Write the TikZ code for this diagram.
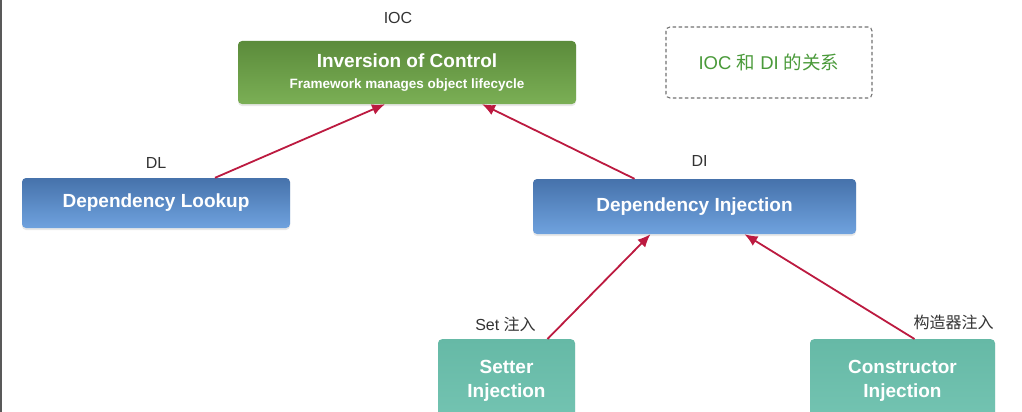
\documentclass[tikz,border=0pt]{standalone}
\usepackage{fontspec}
\setmainfont{Liberation Sans}
\newfontfamily\cjk{Noto Sans CJK SC}
\usetikzlibrary{positioning, arrows.meta, shadows}

\definecolor{ioctop}{HTML}{5B8B3B}
\definecolor{iocbot}{HTML}{7BAF55}
\definecolor{bluetop}{HTML}{4672AB}
\definecolor{bluebot}{HTML}{6FA2DE}
\definecolor{tealtop}{HTML}{66B9A6}
\definecolor{tealbot}{HTML}{74C4B2}
\definecolor{linkred}{HTML}{BC1A40}
\definecolor{labelgray}{HTML}{333333}
\definecolor{notegreen}{HTML}{4A9A3A}

\begin{document}
\begin{tikzpicture}[x=1pt, y=-1pt, >={Latex[length=13pt,width=11pt]},
	box/.style={rectangle, rounded corners=4pt, align=center, text=white,
		font=\bfseries\fontsize{19}{24}\selectfont,
		drop shadow={opacity=0.18, shadow xshift=0pt, shadow yshift=-2pt}},
	greenbox/.style={box, top color=ioctop, bottom color=iocbot},
	bluebox/.style={box, top color=bluetop, bottom color=bluebot},
	tealbox/.style={box, top color=tealtop, bottom color=tealbot},
	lbl/.style={inner sep=0pt, text=labelgray, font=\fontsize{16}{19}\selectfont},
	link/.style={->, draw=linkred, line width=1.8pt}]
	
	\clip (0,0) rectangle (1022,412);
	\fill[white] (0,0) rectangle (1022,412);
	\draw[black!65, line width=1.5pt] (0.75,0) -- (0.75,412);
	
	% Define nodes
	\node [greenbox, minimum width=338pt, minimum height=63pt] (ioc) at (407,72.5)
		{Inversion of Control\\[-3pt]{\fontsize{13.5}{16}\selectfont Framework manages object lifecycle}};
	\node [bluebox, minimum width=268pt, minimum height=50pt] (dl) at (156,203) {Dependency Lookup};
	\node [bluebox, minimum width=323pt, minimum height=55pt] (di) at (694.5,206.5) {Dependency Injection};
	\node [tealbox, anchor=north, minimum width=137pt, minimum height=84pt] (setter) at (506.5,339) {Setter\\Injection};
	\node [tealbox, anchor=north, minimum width=185pt, minimum height=84pt] (ctor) at (902.5,339) {Constructor\\Injection};
	
	% Labels above the blocks
	\node [lbl, above=17pt of ioc, xshift=-9pt] (ioclbl) {IOC};
	\node [lbl, above=9pt of dl] (dllbl) {DL};
	\node [lbl, above=12pt of di, xshift=5pt] (dilbl) {DI};
	\node [lbl, above=7pt of setter, xshift=-1pt] (setlbl) {Set {\cjk 注入}};
	\node [lbl, above=9pt of ctor, xshift=51pt] (ctorlbl) {\cjk 构造器注入};
	
	% Note box
	\node [draw=black!55, dashed, dash pattern=on 3.5pt off 2.5pt, line width=1.1pt, rounded corners=4pt,
		minimum width=206pt, minimum height=71pt, text=notegreen, font=\fontsize{18.5}{22}\selectfont] (note) at (769,62.5)
		{IOC {\cjk 和} DI {\cjk 的关系}};
	
	% Arrows between blocks
	\draw[link] ([xshift=59pt]dl.north) -- ([xshift=-22pt]ioc.south);
	\draw[link] ([xshift=-60pt]di.north) -- ([xshift=75pt]ioc.south);
	\draw[link] ([xshift=41pt]setter.north) -- ([xshift=-44pt]di.south);
	\draw[link] ([xshift=12pt]ctor.north) -- ([xshift=50pt]di.south);
\end{tikzpicture}
\end{document}
